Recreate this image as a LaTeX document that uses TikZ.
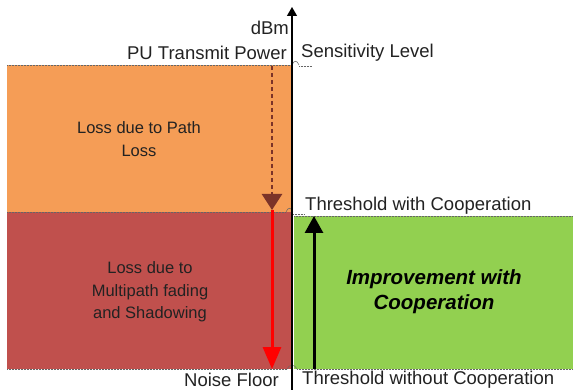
\documentclass[tikz,border=0pt]{standalone}
\usepackage{fontspec}
\setmainfont{Liberation Sans}
\usetikzlibrary{arrows.meta}
\definecolor{orng}{HTML}{F59D56}
\definecolor{rd}{HTML}{C0504D}
\definecolor{grn}{HTML}{92D050}
\definecolor{brwn}{HTML}{7B3328}
\definecolor{txt}{HTML}{222222}
\tikzset{
  lbl/.style={inner sep=0pt, text=txt, font=\fontsize{18.5}{20}\selectfont},
  body/.style={inner sep=0pt, align=center, text=txt, font=\fontsize{16.5}{22.5}\selectfont},
  guide/.style={draw=black!60, line width=0.5pt, densely dotted},
  hop/.style={draw=black!60, line width=0.5pt},
}
\begin{document}
\begin{tikzpicture}[x=1pt,y=-1pt]
\useasboundingbox (0,0) rectangle (573,390);
% areas
\fill[orng] (7,65) rectangle (292,212);
\fill[rd] (7,212) rectangle (292,369);
\fill[grn] (294,216) rectangle (573,369);
% guide lines
\draw[guide] (7,65) -- (292,65);
\draw[hop] (292,65) .. controls (294,60) and (297,60) .. (299,65);
\draw[guide] (299,66) -- (312,66);
\draw[guide] (7,212) -- (286,212);
\draw[hop] (286,212) .. controls (288,207) and (291,207) .. (293,212);
\draw[guide] (293,214) -- (305,214);
\draw[guide] (294,216) -- (573,216);
\draw[guide] (7,369) -- (287,369);
\draw[hop] (287,369) .. controls (289,364) and (295,364) .. (297,369);
\draw[guide] (297,369) -- (573,369);
% coordinates
\coordinate (axb) at (292,390);
\coordinate (axt) at (292,7);
\coordinate (pu) at (272,66);
\coordinate (th) at (272,210);
\coordinate (nf) at (272,369);
\coordinate (gb) at (314,369);
\coordinate (gt) at (314,216);
% axis
\draw[line width=1.3pt, -{Triangle[length=9pt,width=10pt]}] (axb) -- (axt);
% arrows
\draw[brwn, line width=2.6pt, dash pattern=on 4pt off 3pt, -{Triangle[length=16pt,width=20pt]}] (pu) -- (th);
\draw[red, line width=3pt, -{Triangle[length=22pt,width=18pt]}] (th) -- (nf);
\draw[black, line width=3pt, -{Triangle[length=17pt,width=18pt]}] (gb) -- (gt);
% labels
\node[lbl, anchor=east] (dbm) at (289,28) {dBm};
\node[lbl, anchor=east] (put) at (287,53) {PU Transmit Power};
\node[lbl, anchor=west] (sens) at (301,53) {Sensitivity Level};
\node[lbl, anchor=west] (thw) at (305,206) {Threshold with Cooperation};
\node[lbl, anchor=east] (noise) at (279,380) {Noise Floor};
\node[lbl, anchor=west] (thwo) at (302,380) {Threshold without Cooperation};
\node[body] (pl) at (139,139) {Loss due to Path\\Loss};
\node[body] (mp) at (150,292) {Loss due to\\Multipath fading\\and Shadowing};
\node[body, font=\fontsize{20.5}{25}\selectfont\bfseries\itshape, text=black] (imp) at (434,292) {Improvement with\\Cooperation};
\end{tikzpicture}
\end{document}
